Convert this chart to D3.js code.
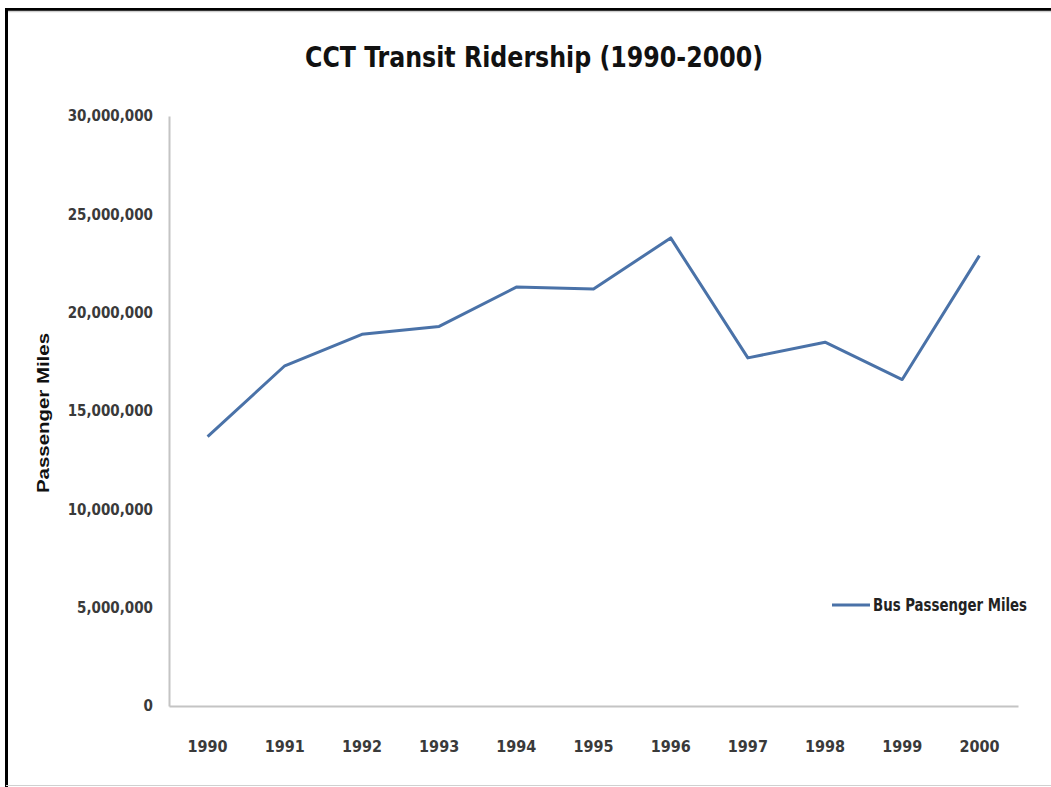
<!DOCTYPE html>
<html>
<head>
<meta charset="utf-8">
<script src="https://cdn.jsdelivr.net/npm/d3@7"></script>
<style>
  body { margin: 0; background: white; }
  svg { display: block; }
</style>
</head>
<body>
<div id="chart"></div>
<script>
var years = ['1990', '1991', '1992', '1993', '1994', '1995', '1996', '1997', '1998', '1999', '2000']
var busMiles = [13700000, 17300000, 18900000, 19300000, 21300000, 21200000, 23800000, 17700000, 18500000, 16600000, 22900000]
var yTicks = [0, 5000000, 10000000, 15000000, 20000000, 25000000, 30000000]

var width = 1051, height = 787
var narrow = "'DejaVu Sans Condensed', 'Liberation Sans Narrow', sans-serif"

var svg = d3.select('#chart').append('svg')
    .attr('width', width).attr('height', height)

// frame: heavy black on top/left, thin grey at the bottom
svg.append('rect').attr('width', width).attr('height', height).attr('fill', 'white')
svg.append('path')
    .attr('d', 'M6.5,787 V9.5 H1051')
    .attr('fill', 'none').attr('stroke', 'black').attr('stroke-width', 3)
svg.append('line')
    .attr('x1', 8).attr('x2', width).attr('y1', 11.5).attr('y2', 11.5)
    .attr('stroke', '#cfcfcf').attr('stroke-width', 1.5)
svg.append('line')
    .attr('x1', 6).attr('x2', width).attr('y1', 785.5).attr('y2', 785.5)
    .attr('stroke', '#d0d0d0').attr('stroke-width', 1)

var x = d3.scaleBand().domain(years).range([169, 1018])
var y = d3.scaleLinear().domain([0, 30000000]).range([706, 116])

// y axis
var yAxis = svg.append('g').attr('transform', 'translate(169,0)')
    .call(d3.axisLeft(y).tickValues(yTicks).tickSize(0).tickPadding(16)
        .tickFormat(d3.format(',')))
yAxis.select('.domain').attr('stroke', '#c4c4c4').attr('stroke-width', 2)
yAxis.selectAll('text')
    .attr('font-family', narrow).attr('font-size', 15).attr('font-weight', 'bold')
    .attr('fill', '#3a3a3a')

// x axis
var xAxis = svg.append('g').attr('transform', 'translate(0,706)')
    .call(d3.axisBottom(x).tickSize(0).tickPadding(35))
xAxis.select('.domain').attr('stroke', '#c4c4c4').attr('stroke-width', 2)
xAxis.selectAll('text')
    .attr('font-family', narrow).attr('font-size', 16).attr('font-weight', 'bold')
    .attr('fill', '#3a3a3a')

// the series
var line = d3.line()
    .x((d, i) => x(years[i]) + x.bandwidth() / 2)
    .y(d => y(d))

svg.append('path')
    .datum(busMiles)
    .attr('d', line)
    .attr('fill', 'none')
    .attr('stroke', '#4a72a8')
    .attr('stroke-width', 3)
    .attr('stroke-linejoin', 'round')

// title
svg.append('text')
    .attr('x', 534).attr('y', 67)
    .attr('text-anchor', 'middle')
    .attr('font-family', narrow).attr('font-size', 29).attr('font-weight', 'bold')
    .attr('textLength', 458).attr('lengthAdjust', 'spacingAndGlyphs')
    .attr('fill', '#111')
    .text('CCT Transit Ridership (1990-2000)')

// y axis title
svg.append('text')
    .attr('transform', 'translate(49,413) rotate(-90)')
    .attr('text-anchor', 'middle')
    .attr('font-family', "'Liberation Sans', Arial, sans-serif")
    .attr('font-size', 16).attr('font-weight', 'bold')
    .attr('textLength', 160).attr('lengthAdjust', 'spacingAndGlyphs')
    .attr('fill', '#111')
    .text('Passenger Miles')

// legend
var legend = svg.append('g').attr('transform', 'translate(832,605)')
legend.append('line')
    .attr('x1', 0).attr('x2', 38).attr('y1', 0).attr('y2', 0)
    .attr('stroke', '#4a72a8').attr('stroke-width', 3)
legend.append('text')
    .attr('x', 41).attr('y', 6)
    .attr('font-family', narrow).attr('font-size', 17).attr('font-weight', 'bold')
    .attr('textLength', 154).attr('lengthAdjust', 'spacingAndGlyphs')
    .attr('fill', '#222')
    .text('Bus Passenger Miles')
</script>
</body>
</html>
